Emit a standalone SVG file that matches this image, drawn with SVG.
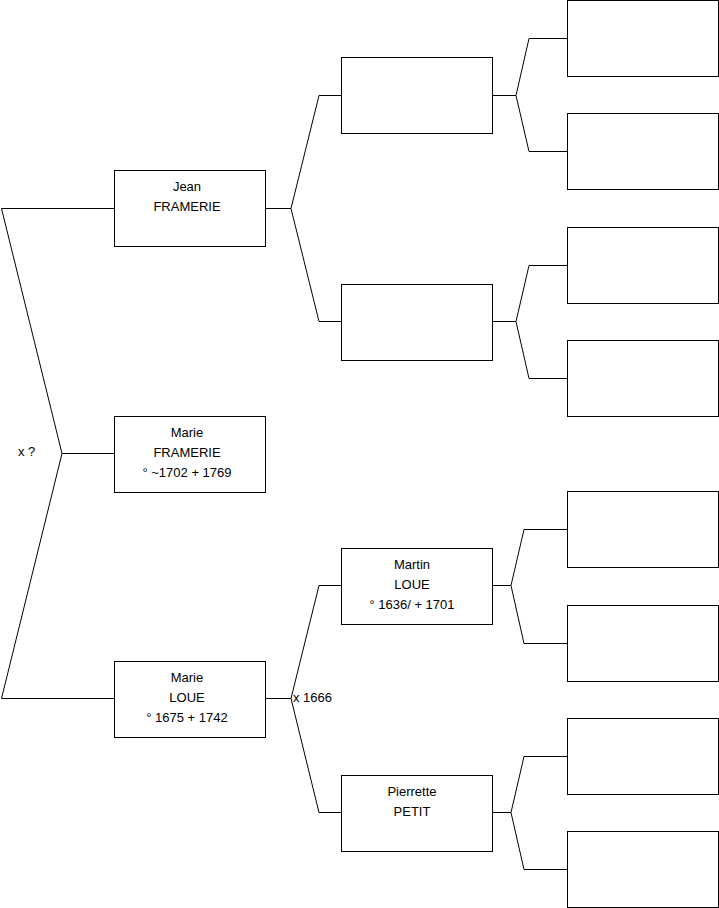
<svg xmlns="http://www.w3.org/2000/svg" width="719" height="908" viewBox="0 0 719 908">
<style>
.box{fill:#fff;stroke:#000;stroke-width:1}
.ln{fill:none;stroke:#000;stroke-width:1}
text{font-family:"Liberation Sans",Arial,sans-serif;font-size:13px;fill:#000}
.c{text-anchor:middle}
</style>
<rect width="719" height="908" fill="#fff"/>
<g id="connectors">
<polyline class="ln" points="114,208.5 1.5,208.5 62,453.5 1.5,698.5 114,698.5"/>
<line class="ln" x1="62" y1="453.5" x2="114" y2="453.5"/>
<text x="18" y="455.5">x ?</text>
<polyline class="ln" points="341,95.5 319,95.5 291,208.5 319,321.5 341,321.5"/>
<line class="ln" x1="265" y1="208.5" x2="291" y2="208.5"/>
<polyline class="ln" points="341,585.5 319,585.5 291,698.5 319,812.5 341,812.5"/>
<line class="ln" x1="265" y1="698.5" x2="291" y2="698.5"/>
<text x="293" y="702">x 1666</text>
<polyline class="ln" points="567,38.5 529,38.5 516,95.5 529,151.5 567,151.5"/>
<line class="ln" x1="492" y1="95.5" x2="516" y2="95.5"/>
<polyline class="ln" points="567,265.5 529,265.5 516,321.5 529,378.5 567,378.5"/>
<line class="ln" x1="492" y1="321.5" x2="516" y2="321.5"/>
<polyline class="ln" points="567,529.5 524,529.5 511,585.5 524,643.5 567,643.5"/>
<line class="ln" x1="492" y1="585.5" x2="511" y2="585.5"/>
<polyline class="ln" points="567,756.5 524,756.5 511,812.5 524,869.5 567,869.5"/>
<line class="ln" x1="492" y1="812.5" x2="511" y2="812.5"/>
</g>
<g id="jean">
<rect class="box" x="114.5" y="170.5" width="151" height="76"/>
<text class="c" x="187" y="191">Jean</text>
<text class="c" x="187" y="211">FRAMERIE</text>
</g>
<g id="marie-framerie">
<rect class="box" x="114.5" y="416.5" width="151" height="76"/>
<text class="c" x="187" y="437">Marie</text>
<text class="c" x="187" y="457">FRAMERIE</text>
<text class="c" x="187" y="477">° ~1702 + 1769</text>
</g>
<g id="marie-loue">
<rect class="box" x="114.5" y="661.5" width="151" height="76"/>
<text class="c" x="187" y="682">Marie</text>
<text class="c" x="187" y="702">LOUE</text>
<text class="c" x="187" y="722">° 1675 + 1742</text>
</g>
<g id="f-father">
<rect class="box" x="341.5" y="57.5" width="151" height="76"/>
</g>
<g id="f-mother">
<rect class="box" x="341.5" y="284.5" width="151" height="76"/>
</g>
<g id="martin">
<rect class="box" x="341.5" y="548.5" width="151" height="76"/>
<text class="c" x="412" y="569">Martin</text>
<text class="c" x="412" y="589">LOUE</text>
<text class="c" x="412" y="609">° 1636/ + 1701</text>
</g>
<g id="pierrette">
<rect class="box" x="341.5" y="775.5" width="151" height="76"/>
<text class="c" x="412" y="796">Pierrette</text>
<text class="c" x="412" y="816">PETIT</text>
</g>
<g id="g1"><rect class="box" x="567.5" y="0.5" width="151" height="76"/></g>
<g id="g2"><rect class="box" x="567.5" y="113.5" width="151" height="76"/></g>
<g id="g3"><rect class="box" x="567.5" y="227.5" width="151" height="76"/></g>
<g id="g4"><rect class="box" x="567.5" y="340.5" width="151" height="76"/></g>
<g id="g5"><rect class="box" x="567.5" y="491.5" width="151" height="76"/></g>
<g id="g6"><rect class="box" x="567.5" y="605.5" width="151" height="76"/></g>
<g id="g7"><rect class="box" x="567.5" y="718.5" width="151" height="76"/></g>
<g id="g8"><rect class="box" x="567.5" y="831.5" width="151" height="76"/></g>
</svg>
